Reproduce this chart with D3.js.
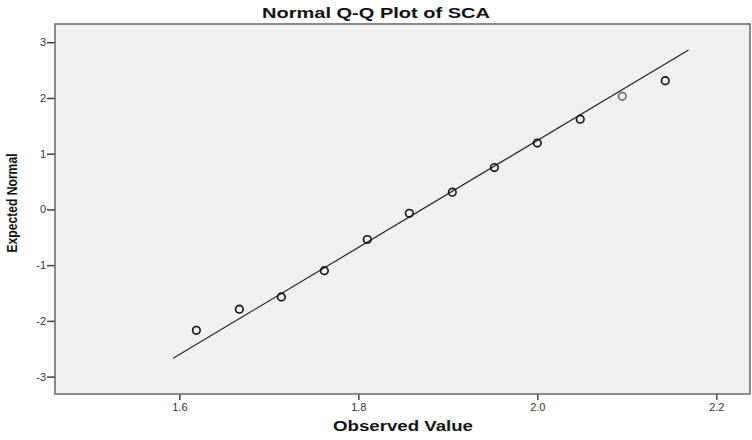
<!DOCTYPE html>
<html><head><meta charset="utf-8">
<script src="https://cdn.jsdelivr.net/npm/d3@7"></script>
<style>body{margin:0;background:#fff}svg{display:block}</style>
</head><body><svg id="c" width="752" height="440"></svg>
<script>
const observed = [1.619, 1.667, 1.714, 1.762, 1.810, 1.857, 1.905, 1.952, 2.000, 2.048, 2.095, 2.143];
const expected = [-2.17, -1.79, -1.57, -1.10, -0.54, -0.07, 0.31, 0.75, 1.19, 1.62, 2.03, 2.31];
const pointTone = ["dark","dark","dark","dark","dark","dark","dark","dark","dark","dark","light","dark"];
const lineX = [1.593, 2.169];
const lineY = [-2.67, 2.86];
const xTicks = [1.6, 1.8, 2.0, 2.2];
const yTicks = [-3, -2, -1, 0, 1, 2, 3];

const svg = d3.select("#c");
const L = 55, R = 750, T = 24, B = 394;
const x = d3.scaleLinear().domain([1.461, 2.2377]).range([L, R]);
const y = d3.scaleLinear().domain([-3.312, 3.327]).range([B, T]);

svg.append("rect").attr("x", L).attr("y", T).attr("width", R - L).attr("height", B - T)
  .attr("fill", "#f0f0f0");

const font = "Arial, 'Liberation Sans', sans-serif";
const gx = svg.append("g").attr("transform", `translate(0,${B})`)
  .call(d3.axisBottom(x).tickValues(xTicks).tickFormat(d => d.toFixed(1)).tickSize(6).tickSizeOuter(0));
const gy = svg.append("g").attr("transform", `translate(${L},0)`)
  .call(d3.axisLeft(y).tickValues(yTicks).tickFormat(d => String(d)).tickSize(8).tickSizeOuter(0));
[gx, gy].forEach(g => {
  g.select(".domain").remove();
  g.selectAll(".tick line").attr("stroke", "#444").attr("stroke-width", 1.5);
  g.selectAll(".tick text").attr("fill", "#333").style("font-family", font).style("font-size", "11px");
});
gx.selectAll(".tick text").attr("dy", "0.9em").attr("y", 7);
gy.selectAll(".tick text").attr("x", -9);

svg.append("rect").attr("x", L).attr("y", T).attr("width", R - L).attr("height", B - T)
  .attr("fill", "none").attr("stroke", "#666").attr("stroke-width", 1.5);

svg.append("line")
  .attr("x1", x(lineX[0])).attr("y1", y(lineY[0]))
  .attr("x2", x(lineX[1])).attr("y2", y(lineY[1]))
  .attr("stroke", "#222").attr("stroke-width", 1.2);

svg.append("g").selectAll("circle").data(observed).join("circle")
  .attr("cx", d => x(d)).attr("cy", (d, i) => y(expected[i])).attr("r", 3.8)
  .attr("fill", "none")
  .attr("stroke", (d, i) => pointTone[i] === "light" ? "#6a6a6a" : "#111")
  .attr("stroke-width", 1.6);

svg.append("text").attr("x", 376).attr("y", 18).attr("text-anchor", "middle")
  .attr("textLength", 228).attr("lengthAdjust", "spacingAndGlyphs")
  .style("font-family", font).style("font-weight", "bold").style("font-size", "14px").attr("fill", "#111")
  .text("Normal Q-Q Plot of SCA");

svg.append("text").attr("x", 403).attr("y", 431).attr("text-anchor", "middle")
  .attr("textLength", 140).attr("lengthAdjust", "spacingAndGlyphs")
  .style("font-family", font).style("font-weight", "bold").style("font-size", "14px").attr("fill", "#111")
  .text("Observed Value");

svg.append("text").attr("transform", "translate(17,203) rotate(-90)").attr("text-anchor", "middle")
  .attr("textLength", 99).attr("lengthAdjust", "spacingAndGlyphs")
  .style("font-family", font).style("font-weight", "bold").style("font-size", "14px").attr("fill", "#111")
  .text("Expected Normal");
</script></body></html>
